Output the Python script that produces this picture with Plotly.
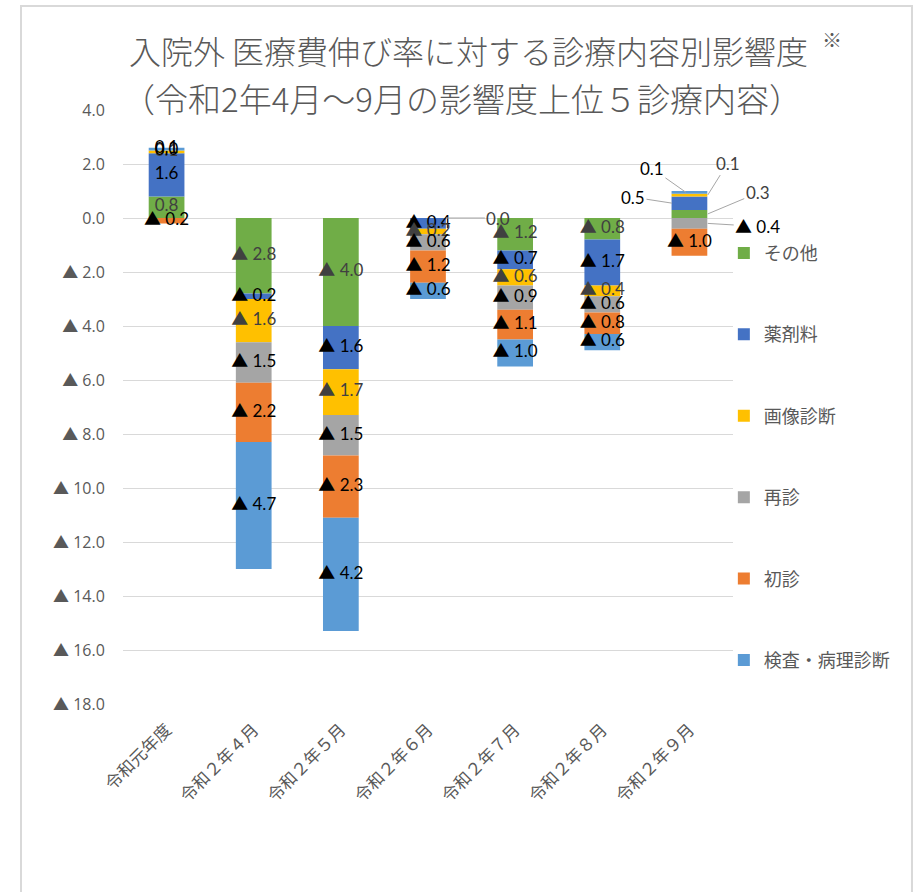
import plotly.graph_objects as go

# ---------------- data ----------------
categories = ["令和元年度", "令和２年４月", "令和２年５月", "令和２年６月",
              "令和２年７月", "令和２年８月", "令和２年９月"]

series_names = ["その他", "薬剤料", "画像診断", "再診", "初診", "検査・病理診断"]
sonota   = [0.8, -2.8, -4.0,  0.0, -1.2, -0.8,  0.3]
yakuzai  = [1.6, -0.2, -1.6, -0.4, -0.7, -1.7,  0.5]
gazou    = [0.1, -1.6, -1.7, -0.2, -0.6, -0.4,  0.1]
saishin  = [0.0, -1.5, -1.5, -0.6, -0.9, -0.6, -0.4]
shoshin  = [-0.2, -2.2, -2.3, -1.2, -1.1, -0.8, -1.0]
kensa    = [0.1, -4.7, -4.2, -0.6, -1.0, -0.6,  0.1]
series_values = [sonota, yakuzai, gazou, saishin, shoshin, kensa]

y_tickvals = [4, 2, 0, -2, -4, -6, -8, -10, -12, -14, -16, -18]

# ---------------- styles ----------------
colors = ["#70AD47", "#4472C4", "#FFC000", "#A5A5A5", "#ED7D31", "#5B9BD5"]
label_colors = ["#404040", "#000000", "#404040", "#000000", "#000000", "#000000"]
GRID = "#D9D9D9"
TXT = "#595959"
JP = "Noto Sans CJK JP"
NUM = "Lato, Noto Sans CJK JP"
LBL = 17

# labels drawn with leader lines: (series index, category index) -> (x shift in cat units, ax px, ay px)
leader = {
    (0, 3): (0.21, 52, 0),
    (5, 6): (-0.04, -34, -24),
    (2, 6): (0.21, 20, -32),
    (1, 6): (-0.2, -39, -6),
    (0, 6): (0.21, 50, -21),
    (3, 6): (0.21, 50, 3),
}


def fmt(v):
    return f"{v:.1f}" if v >= 0 else f"▲ {abs(v):.1f}"


fig = go.Figure()

for name, vals, c in zip(series_names, series_values, colors):
    fig.add_trace(go.Bar(
        name=name, x=categories, y=vals, marker=dict(color=c, line=dict(width=0)),
        width=0.41, legendgroup=name, hoverinfo="x+y"))

# label positions (segment midpoints of relative stacking)
pos_cum = [0.0] * len(categories)
neg_cum = [0.0] * len(categories)
annotations = []
for si, (vals, lc) in enumerate(zip(series_values, label_colors)):
    xs, ys, ts = [], [], []
    for ci, v in enumerate(vals):
        if v >= 0:
            mid = pos_cum[ci] + v / 2
            pos_cum[ci] += v
        else:
            mid = neg_cum[ci] + v / 2
            neg_cum[ci] += v
        if (si, ci) in leader:
            dx, ax, ay = leader[(si, ci)]
            annotations.append(dict(
                x=ci + dx, y=mid, xref="x", yref="y", text=fmt(v), showarrow=True,
                arrowhead=0, arrowwidth=1, arrowcolor="#A6A6A6", ax=ax, ay=ay,
                font=dict(family=NUM, size=LBL, color=lc)))
            continue
        xs.append(categories[ci]); ys.append(mid); ts.append(fmt(v))
    fig.add_trace(go.Scatter(
        x=xs, y=ys, text=ts, mode="text", textposition="middle center",
        textfont=dict(family=NUM, size=LBL, color=lc), showlegend=False,
        hoverinfo="skip", cliponaxis=False))

# titles
annotations += [
    dict(text="入院外 医療費伸び率に対する診療内容別影響度", xref="paper", yref="paper",
         x=0.567, y=1.101, showarrow=False, xanchor="center", yanchor="middle",
         font=dict(family=JP, size=32, color=TXT, weight=300)),
    dict(text="※", xref="paper", yref="paper", x=1.162, y=1.118, showarrow=False,
         xanchor="center", yanchor="middle", font=dict(family=JP, size=20, color=TXT)),
    dict(text="（令和2年4月～9月の影響度上位５診療内容）", xref="paper", yref="paper",
         x=0.5557, y=1.020, showarrow=False, xanchor="center", yanchor="middle",
         font=dict(family=JP, size=33, color=TXT, weight=300)),
]

fig.update_layout(
    width=917, height=892,
    margin=dict(l=123, r=184, t=110, b=188),
    paper_bgcolor="white", plot_bgcolor="white",
    barmode="relative", bargap=0.59,
    annotations=annotations,
    showlegend=True,
    legend=dict(traceorder="grouped", tracegroupgap=55, x=0.985, xanchor="left",
                y=0.79, yanchor="top", font=dict(family=JP, size=18, color=TXT),
                bgcolor="rgba(0,0,0,0)", itemclick=False),
    shapes=[dict(type="rect", xref="paper", yref="paper", x0=-0.1672, x1=1.2934,
                 y0=-0.35, y1=1.1751, line=dict(color="#D9D9D9", width=2), layer="below")],
)

fig.update_yaxes(range=[-18, 4], tickvals=y_tickvals, ticktext=[fmt(v) for v in y_tickvals],
                 showgrid=True, gridcolor=GRID, gridwidth=1, zeroline=False,
                 ticks="outside", ticklen=14, tickcolor="rgba(0,0,0,0)",
                 tickfont=dict(family="Open Sans, Noto Sans CJK JP", size=16, color=TXT),
                 showline=False)
fig.update_xaxes(type="category", range=[-0.5, 6.5], tickangle=-45, showgrid=False,
                 showline=False, ticks="outside", ticklen=8, tickcolor="rgba(0,0,0,0)",
                 tickfont=dict(family=JP, size=17, color=TXT))

fig.write_html("out.html")
